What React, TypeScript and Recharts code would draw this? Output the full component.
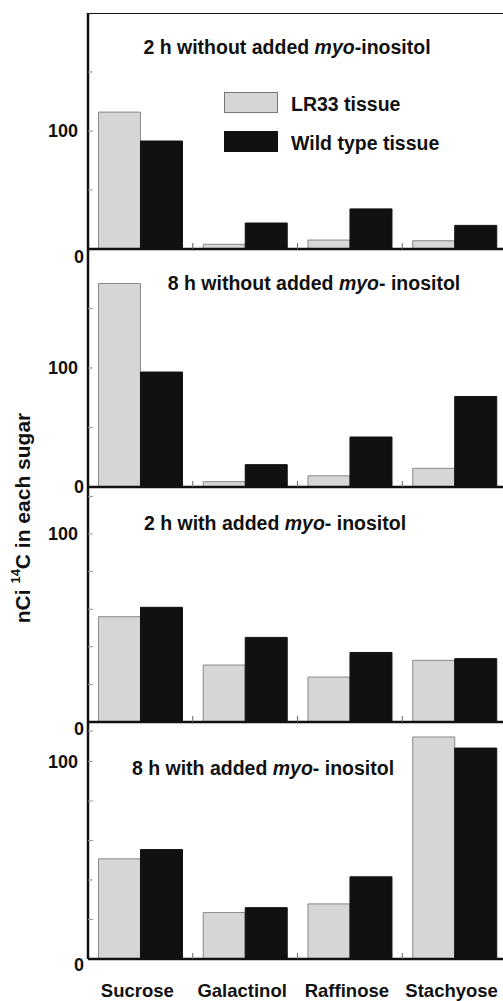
import React from "react";
import { BarChart, Bar, XAxis, YAxis, Legend, ReferenceLine } from "recharts";

const categories = ["Sucrose", "Galactinol", "Raffinose", "Stachyose"];

const lr33_2hWithout = [116, 4, 7.6, 7];
const wild_2hWithout = [91.5, 22, 34, 20];
const lr33_8hWithout = [171, 4.5, 9.4, 15.7];
const wild_8hWithout = [96.6, 18.8, 42, 76];
const lr33_2hWith = [56, 30.3, 23.9, 32.8];
const wild_2hWith = [61, 45, 37, 33.7];
const lr33_8hWith = [50.7, 23.5, 27.9, 112.4];
const wild_8hWith = [55.4, 26, 41.6, 106.8];

const ticksWithout = [0, 50, 100, 150];
const ticksWith = [0, 20, 40, 60, 80, 100, 120];

const FONT = "'Liberation Sans', Arial, sans-serif";
const AXIS_W = 88;
const CHART_W = 520;
const PLOT_W = 419;
const BAND = PLOT_W / categories.length;

const build = (lr: number[], wt: number[]) =>
  categories.map((name, i) => ({ name, lr33: lr[i], wild: wt[i] }));

const panels = [
  { top: 13, plotH: 236, max: 200, ticks: ticksWithout, zeroShift: 8, data: build(lr33_2hWithout, wild_2hWithout) },
  { top: 249, plotH: 238, max: 200, ticks: ticksWithout, zeroShift: 0, data: build(lr33_8hWithout, wild_8hWithout) },
  { top: 487, plotH: 235, max: 125, ticks: ticksWith, zeroShift: 7, data: build(lr33_2hWith, wild_2hWith) },
  { top: 722, plotH: 237, max: 120, ticks: ticksWith, zeroShift: 6, data: build(lr33_8hWith, wild_8hWith) },
];

const titles = [
  { cx: 287, cy: 47, pre: "2 h without added ", post: "-inositol" },
  { cx: 314, cy: 283, pre: "8 h without added ", post: "- inositol" },
  { cx: 275, cy: 523, pre: "2 h with added ", post: "- inositol" },
  { cx: 263, cy: 768, pre: "8 h with added ", post: "- inositol" },
];

const YTick = (props: any) => {
  const { x, y, payload, zeroShift } = props;
  const v = payload.value;
  const show = v === 0 || v === 100;
  return (
    <g>
      {v !== 0 && <line x1={x} x2={x + 5} y1={y} y2={y} stroke="#999" strokeWidth={1} />}
      {show && (
        <text
          x={x - (v === 0 ? 4 : 10)}
          y={y + (v === 0 ? zeroShift : 0)}
          textAnchor="end"
          dominantBaseline="central"
          fontFamily={FONT}
          fontWeight="bold"
          fontSize={18}
          fill="#111"
        >
          {v}
        </text>
      )}
    </g>
  );
};

const XTick = (props: any) => {
  const { x, y, payload, index, showLabel } = props;
  return (
    <g>
      {index < categories.length - 1 && (
        <line x1={x + BAND / 2} x2={x + BAND / 2} y1={y} y2={y - 6} stroke="#666" strokeWidth={1} />
      )}
      {showLabel && (
        <text
          x={x - 3}
          y={y + 24.5}
          dy="0.71em"
          textAnchor="middle"
          fontFamily={FONT}
          fontWeight="bold"
          fontSize={18.5}
          fill="#111"
        >
          {payload.value}
        </text>
      )}
    </g>
  );
};

const LegendBox = () => (
  <div style={{ fontFamily: FONT, fontWeight: "bold", fontSize: 19.5, color: "#111" }}>
    {[
      { label: "LR33 tissue", fill: "#d6d6d6", border: "#777" },
      { label: "Wild type tissue", fill: "#111", border: "#111" },
    ].map((item, i) => (
      <div key={item.label} style={{ position: "absolute", left: 0, top: i * 39, whiteSpace: "nowrap" }}>
        <div
          style={{
            position: "absolute",
            left: 0,
            top: 0,
            width: 52,
            height: 19,
            background: item.fill,
            border: `1px solid ${item.border}`,
          }}
        />
        <div style={{ position: "absolute", left: 67, top: -2, lineHeight: "28px" }}>{item.label}</div>
      </div>
    ))}
  </div>
);

export default function App() {
  return (
    <div
      style={{
        position: "absolute",
        left: 0,
        top: 0,
        width: 503,
        height: 1001,
        overflow: "hidden",
        background: "#fff",
      }}
    >
      {panels.map((p, idx) => {
        const last = idx === panels.length - 1;
        const xH = last ? 42 : 20;
        return (
          <div key={idx} style={{ position: "absolute", left: 0, top: p.top }}>
            <BarChart
              width={CHART_W}
              height={p.plotH + xH}
              data={p.data}
              margin={{ top: 0, right: CHART_W - AXIS_W - PLOT_W, left: 0, bottom: 0 }}
              barCategoryGap="10%"
              barGap={0}
              style={{ overflow: "visible" }}
            >
              <XAxis
                dataKey="name"
                height={xH}
                interval={0}
                axisLine={{ stroke: "#111", strokeWidth: 2.5 }}
                tickLine={false}
                tickSize={0}
                tickMargin={0}
                tick={<XTick showLabel={last} />}
              />
              <YAxis
                width={AXIS_W}
                domain={[0, p.max]}
                ticks={p.ticks}
                allowDataOverflow
                axisLine={{ stroke: "#111", strokeWidth: 2.5 }}
                tickLine={false}
                tickSize={0}
                tickMargin={0}
                tick={<YTick zeroShift={p.zeroShift} />}
              />
              {idx === 0 && <ReferenceLine y={p.max} stroke="#111" strokeWidth={2} />}
              {idx === 0 && (
                <Legend
                  layout="vertical"
                  align="center"
                  verticalAlign="middle"
                  content={<LegendBox />}
                  wrapperStyle={{ position: "absolute", left: 224, top: 79, width: 270, height: 70 }}
                />
              )}
              <Bar dataKey="lr33" name="LR33 tissue" fill="#d6d6d6" stroke="#888" strokeWidth={1} isAnimationActive={false} />
              <Bar dataKey="wild" name="Wild type tissue" fill="#111" stroke="#111" strokeWidth={1} isAnimationActive={false} />
            </BarChart>
          </div>
        );
      })}

      {titles.map((t) => (
        <div
          key={t.cy}
          style={{
            position: "absolute",
            left: t.cx,
            top: t.cy - 12,
            transform: "translateX(-50%)",
            whiteSpace: "nowrap",
            fontFamily: FONT,
            fontWeight: "bold",
            fontSize: 19.5,
            lineHeight: "24px",
            color: "#111",
          }}
        >
          {t.pre}
          <i>myo</i>
          {t.post}
        </div>
      ))}

      <svg width={50} height={1001} style={{ position: "absolute", left: 0, top: 0 }}>
        <text
          x={22}
          y={518}
          transform="rotate(-90, 22, 518)"
          textAnchor="middle"
          dominantBaseline="central"
          fontFamily={FONT}
          fontWeight="bold"
          fontSize={21}
          fill="#111"
        >
          nCi{" "}
          <tspan fontSize={13} dy={-7}>
            14
          </tspan>
          <tspan dy={7}>C in each sugar</tspan>
        </text>
      </svg>
    </div>
  );
}
